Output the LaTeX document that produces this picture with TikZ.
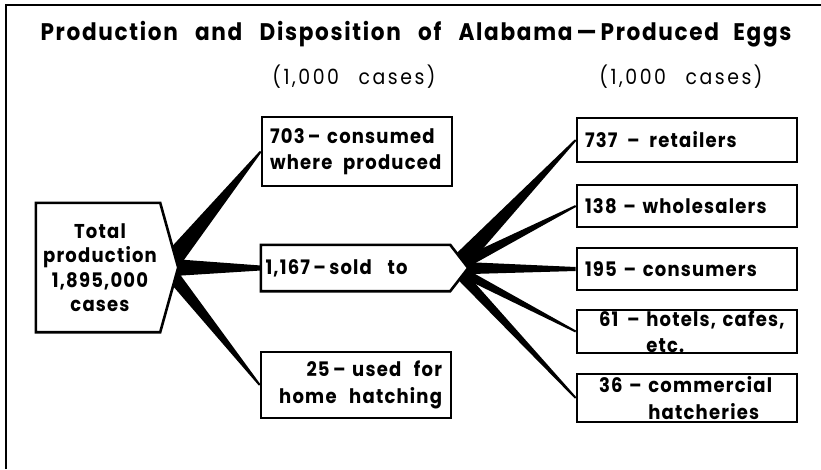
\documentclass[tikz,border=0pt]{standalone}
\usepackage{fontspec}
\setmainfont{Poppins}[FakeStretch=0.9, LetterSpace=6]
\newfontfamily\titlefont{Poppins}[FakeStretch=0.9, LetterSpace=7]
\newfontfamily\headfont{Poppins}[FakeStretch=0.9, LetterSpace=12]
\usetikzlibrary{calc}
\newcommand{\flowwedge}[4]{%
  \fill ($(#1)!#3!90:(#2)$) -- ($(#1)!#3!-90:(#2)$) --
        ($(#2)!#4!90:(#1)$) -- ($(#2)!#4!-90:(#1)$) -- cycle;}
\begin{document}
\begin{tikzpicture}[x=1pt,y=-1pt,
  boxline/.style={line width=2.6pt, line join=miter},
  txt/.style={font=\fontsize{20}{26.5}\selectfont\bfseries},
  box/.style={draw, boxline, fill=white, inner sep=0pt, txt},
  lbox/.style={box, minimum width=190pt, minimum height=#1},
  rbox/.style={box, minimum width=220pt, minimum height=#1, text width=204pt, align=left},
  shapebody/.style={inner sep=0pt, txt},
  head/.style={font=\headfont\fontsize{21}{26}\selectfont}
]
\useasboundingbox (0,0) rectangle (821,469);
% frame
\draw[line width=2.8pt] (6,469) -- (6,5) -- (821,5);
% title and headings
\node[font=\titlefont\fontsize{24}{28}\selectfont\bfseries] (title) at (416,34)
  {Production\hspace{11pt} and\hspace{11pt} Disposition\hspace{11pt} of\hspace{11pt} Alabama\,—\,Produced\hspace{8pt} Eggs};
\node[head] (headl) at (354,77) {(1,000\hspace{12pt} cases)};
\node[head] (headr) at (681,77) {(1,000\hspace{12pt} cases)};

% anchor nodes for the two pointed boxes (bodies)
\node[shapebody, minimum width=124pt, minimum height=129pt, align=center] (total) at (98,267.5) {};
\node[shapebody, minimum width=189pt, minimum height=46pt] (sold) at (355.5,268) {};
\coordinate (totaltip) at ($(total.east)+(18,0)$);
\coordinate (soldtip) at ($(sold.east)+(18,0)$);
\coordinate (tsrc) at ($(total.east)+(6,0)$);
\coordinate (ssrc) at ($(sold.east)+(4,0)$);

% right-hand boxes
\node[lbox=69pt, text width=174pt, align=left] (c703) at (357,151.5)
  {\mbox{703\,– consumed}\\\mbox{where\hspace{4pt} produced}};
\node[lbox=66pt, text width=172pt, align=right] (h25) at (356,385)
  {\mbox{25\,– used\hspace{6pt} for}\\\mbox{home\hspace{6pt} hatching}\hspace*{4pt}};
\node[rbox=44pt] (r737) at (687,140) {737\hspace{3pt} –\hspace{3pt} retailers};
\node[rbox=42pt] (r138) at (687,206) {138 – wholesalers};
\node[rbox=42pt] (r195) at (687,269) {195 – consumers};
\node[rbox=43pt] (r61) at (687,331.5) {\hspace*{14pt}61\hspace{2pt} – hotels, cafes,\\\hspace*{14pt}\hphantom{61\hspace{2pt} – }etc.};
\node[rbox=48pt] (r36) at (687,398) {\hspace*{14pt}36 – commercial\\\hspace*{14pt}\hphantom{36 – }hatcheries};

% wedges
\flowwedge{tsrc}{c703.west}{10pt}{1pt}
\flowwedge{tsrc}{sold.west}{9pt}{2.5pt}
\flowwedge{tsrc}{h25.west}{7pt}{1pt}
\flowwedge{ssrc}{r737.west}{9pt}{1pt}
\flowwedge{ssrc}{r138.west}{6pt}{1pt}
\flowwedge{ssrc}{r195.west}{6.5pt}{2pt}
\flowwedge{ssrc}{r61.west}{5pt}{1pt}
\flowwedge{ssrc}{r36.west}{5.5pt}{1pt}

% pointed boxes drawn over wedge bases
\draw[boxline, fill=white] (total.north west) -- (total.north east) -- (totaltip)
  -- (total.south east) -- (total.south west) -- cycle;
\node[txt, align=center, font=\fontsize{20}{24.5}\selectfont\bfseries] (totaltext) at ($(total.center)+(2,0)$) {Total\\production\\1,895,000\\cases};
\draw[boxline, fill=white] (sold.north west) -- (sold.north east) -- (soldtip)
  -- (sold.south east) -- (sold.south west) -- cycle;
\node[txt, text width=180pt, align=left] (soldtext) at (sold.center) {1,167\,–\,sold\hspace{9pt} to};
\end{tikzpicture}
\end{document}
